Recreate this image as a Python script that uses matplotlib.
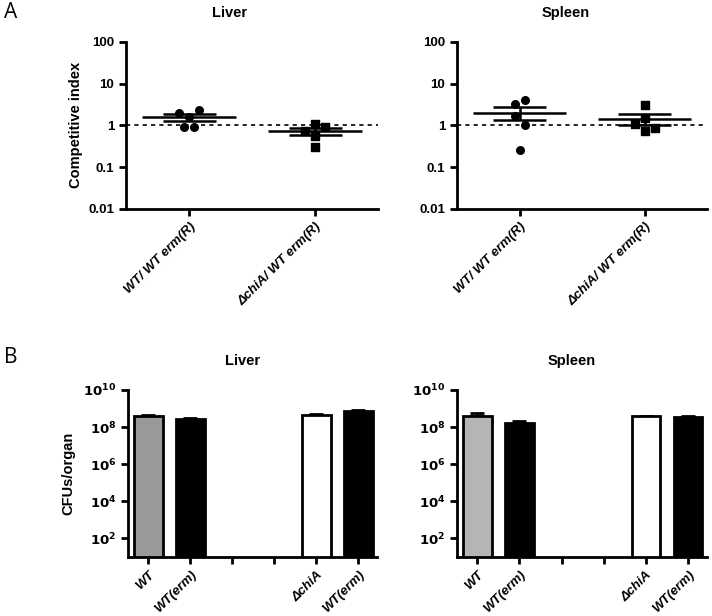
import matplotlib.pyplot as plt
import numpy as np

plt.rcParams['font.family'] = ['Liberation Sans', 'DejaVu Sans']
plt.rcParams['font.weight'] = 'bold'
plt.rcParams['mathtext.default'] = 'bf'

# Panel A: competitive index per mouse
ci_groups = ['WT/ WT erm(R)', '\u0394chiA/ WT erm(R)']
liver_wt = [2.0, 2.3, 1.6, 0.93, 0.93]
liver_chia = [0.72, 1.1, 0.9, 0.57, 0.31]
spleen_wt = [3.2, 4.0, 1.64, 1.0, 0.25]
spleen_chia = [3.0, 1.1, 1.5, 0.72, 0.85]
jitter = [-0.08, 0.08, 0.0, -0.04, 0.04]
jitter_sp = [-0.04, 0.04, -0.04, 0.04, 0.0]
jitter_sp2 = [0.0, -0.08, 0.0, 0.0, 0.08]
jitter_l2 = [-0.08, 0.0, 0.08, 0.0, 0.0]

# Panel B: CFUs per organ
cfu_groups = ['WT', 'WT(erm)', '', '', '\u0394chiA', 'WT(erm)']
liver_cfu = [3.7e8, 2.6e8, 0, 0, 4.6e8, 7.4e8]
liver_err = [0.8e8, 0.3e8, 0, 0, 0.6e8, 0.4e8]
spleen_cfu = [4.0e8, 1.75e8, 0, 0, 3.7e8, 3.5e8]
spleen_err = [1.6e8, 0.3e8, 0, 0, 0.1e8, 0.3e8]

fig = plt.figure(figsize=(7.12, 6.16), dpi=100)


def style_axes(ax):
    for s in ['top', 'right']:
        ax.spines[s].set_visible(False)
    for s in ['left', 'bottom']:
        ax.spines[s].set_linewidth(2)
    ax.tick_params(width=2, length=5, labelsize=9.5)
    ax.tick_params(axis='y', which='minor', length=0)


def ci_panel(ax, data, jits):
    markers = ['o', 's']
    for i, (vals, jit) in enumerate(zip(data, jits)):
        xs = i + np.array(jit)
        ax.scatter(xs, vals, marker=markers[i], s=30, color='black', zorder=3)
        v = np.array(vals)
        m = v.mean()
        sem = v.std(ddof=1) / np.sqrt(len(v))
        ax.hlines(m, i - 0.37, i + 0.37, color='black', lw=1.8)
        ax.hlines([m + sem, m - sem], i - 0.21, i + 0.21, color='black', lw=1.8)
        ax.vlines(i, m - sem, m + sem, color='black', lw=1.8)
    ax.axhline(1, color='black', lw=1.2, ls=(0, (2.5, 2.5)))
    ax.set_yscale('log')
    ax.set_ylim(0.01, 100)
    ax.set_yticks([0.01, 0.1, 1, 10, 100])
    ax.set_yticklabels(['0.01', '0.1', '1', '10', '100'], fontweight='bold')
    ax.set_xlim(-0.5, 1.5)
    ax.set_xticks([0, 1])
    ax.set_xticklabels(ci_groups, rotation=45, ha='right', rotation_mode='anchor',
                       style='italic', fontweight='bold', fontsize=10)
    style_axes(ax)


def cfu_panel(ax, vals, errs, gray):
    colors = [gray, 'black', 'white', 'white', 'white', 'black']
    x = np.arange(len(vals))
    for i in range(len(vals)):
        if vals[i] == 0:
            continue
        ax.bar(x[i], vals[i], width=0.68, color=colors[i], edgecolor='black', lw=2, zorder=2)
        ax.errorbar(x[i], vals[i], yerr=[[0], [errs[i]]], color='black', capsize=5,
                    elinewidth=2, capthick=2, zorder=1)
    ax.set_yscale('log')
    ax.set_ylim(10, 1e10)
    ax.set_yticks([1e2, 1e4, 1e6, 1e8, 1e10])
    ax.set_yticklabels([r'$\mathbf{10^{2}}$', r'$\mathbf{10^{4}}$', r'$\mathbf{10^{6}}$',
                        r'$\mathbf{10^{8}}$', r'$\mathbf{10^{10}}$'])
    ax.set_xlim(-0.48, 5.45)
    ax.set_xticks(x)
    ax.set_xticklabels(cfu_groups, rotation=45, ha='right', rotation_mode='anchor',
                       style='italic', fontweight='bold', fontsize=10)
    style_axes(ax)


axA1 = fig.add_axes([0.177, 0.661, 0.354, 0.271])
axA2 = fig.add_axes([0.642, 0.661, 0.351, 0.271])
axB1 = fig.add_axes([0.180, 0.096, 0.350, 0.271])
axB2 = fig.add_axes([0.642, 0.096, 0.351, 0.271])

ci_panel(axA1, [liver_wt, liver_chia], [jitter, jitter_l2])
ci_panel(axA2, [spleen_wt, spleen_chia], [jitter_sp, jitter_sp2])
cfu_panel(axB1, liver_cfu, liver_err, '#999999')
cfu_panel(axB2, spleen_cfu, spleen_err, '#b5b5b5')

axA1.set_ylabel('Competitive index', fontsize=10.5, fontweight='bold', labelpad=4)
axB1.set_ylabel('CFUs/organ', fontsize=10.5, fontweight='bold', labelpad=6)

fig.text(0.323, 0.979, 'Liver', ha='center', va='center', fontsize=10.5, fontweight='bold')
fig.text(0.794, 0.979, 'Spleen', ha='center', va='center', fontsize=10.5, fontweight='bold')
fig.text(0.341, 0.414, 'Liver', ha='center', va='center', fontsize=10.5, fontweight='bold')
fig.text(0.803, 0.414, 'Spleen', ha='center', va='center', fontsize=10.5, fontweight='bold')
fig.text(0.006, 0.979, 'A', fontsize=15, weight='normal', va='center', family='Open Sans')
fig.text(0.006, 0.42, 'B', fontsize=15, weight='normal', va='center', family='Open Sans')

fig.savefig('out.png', dpi=100)
